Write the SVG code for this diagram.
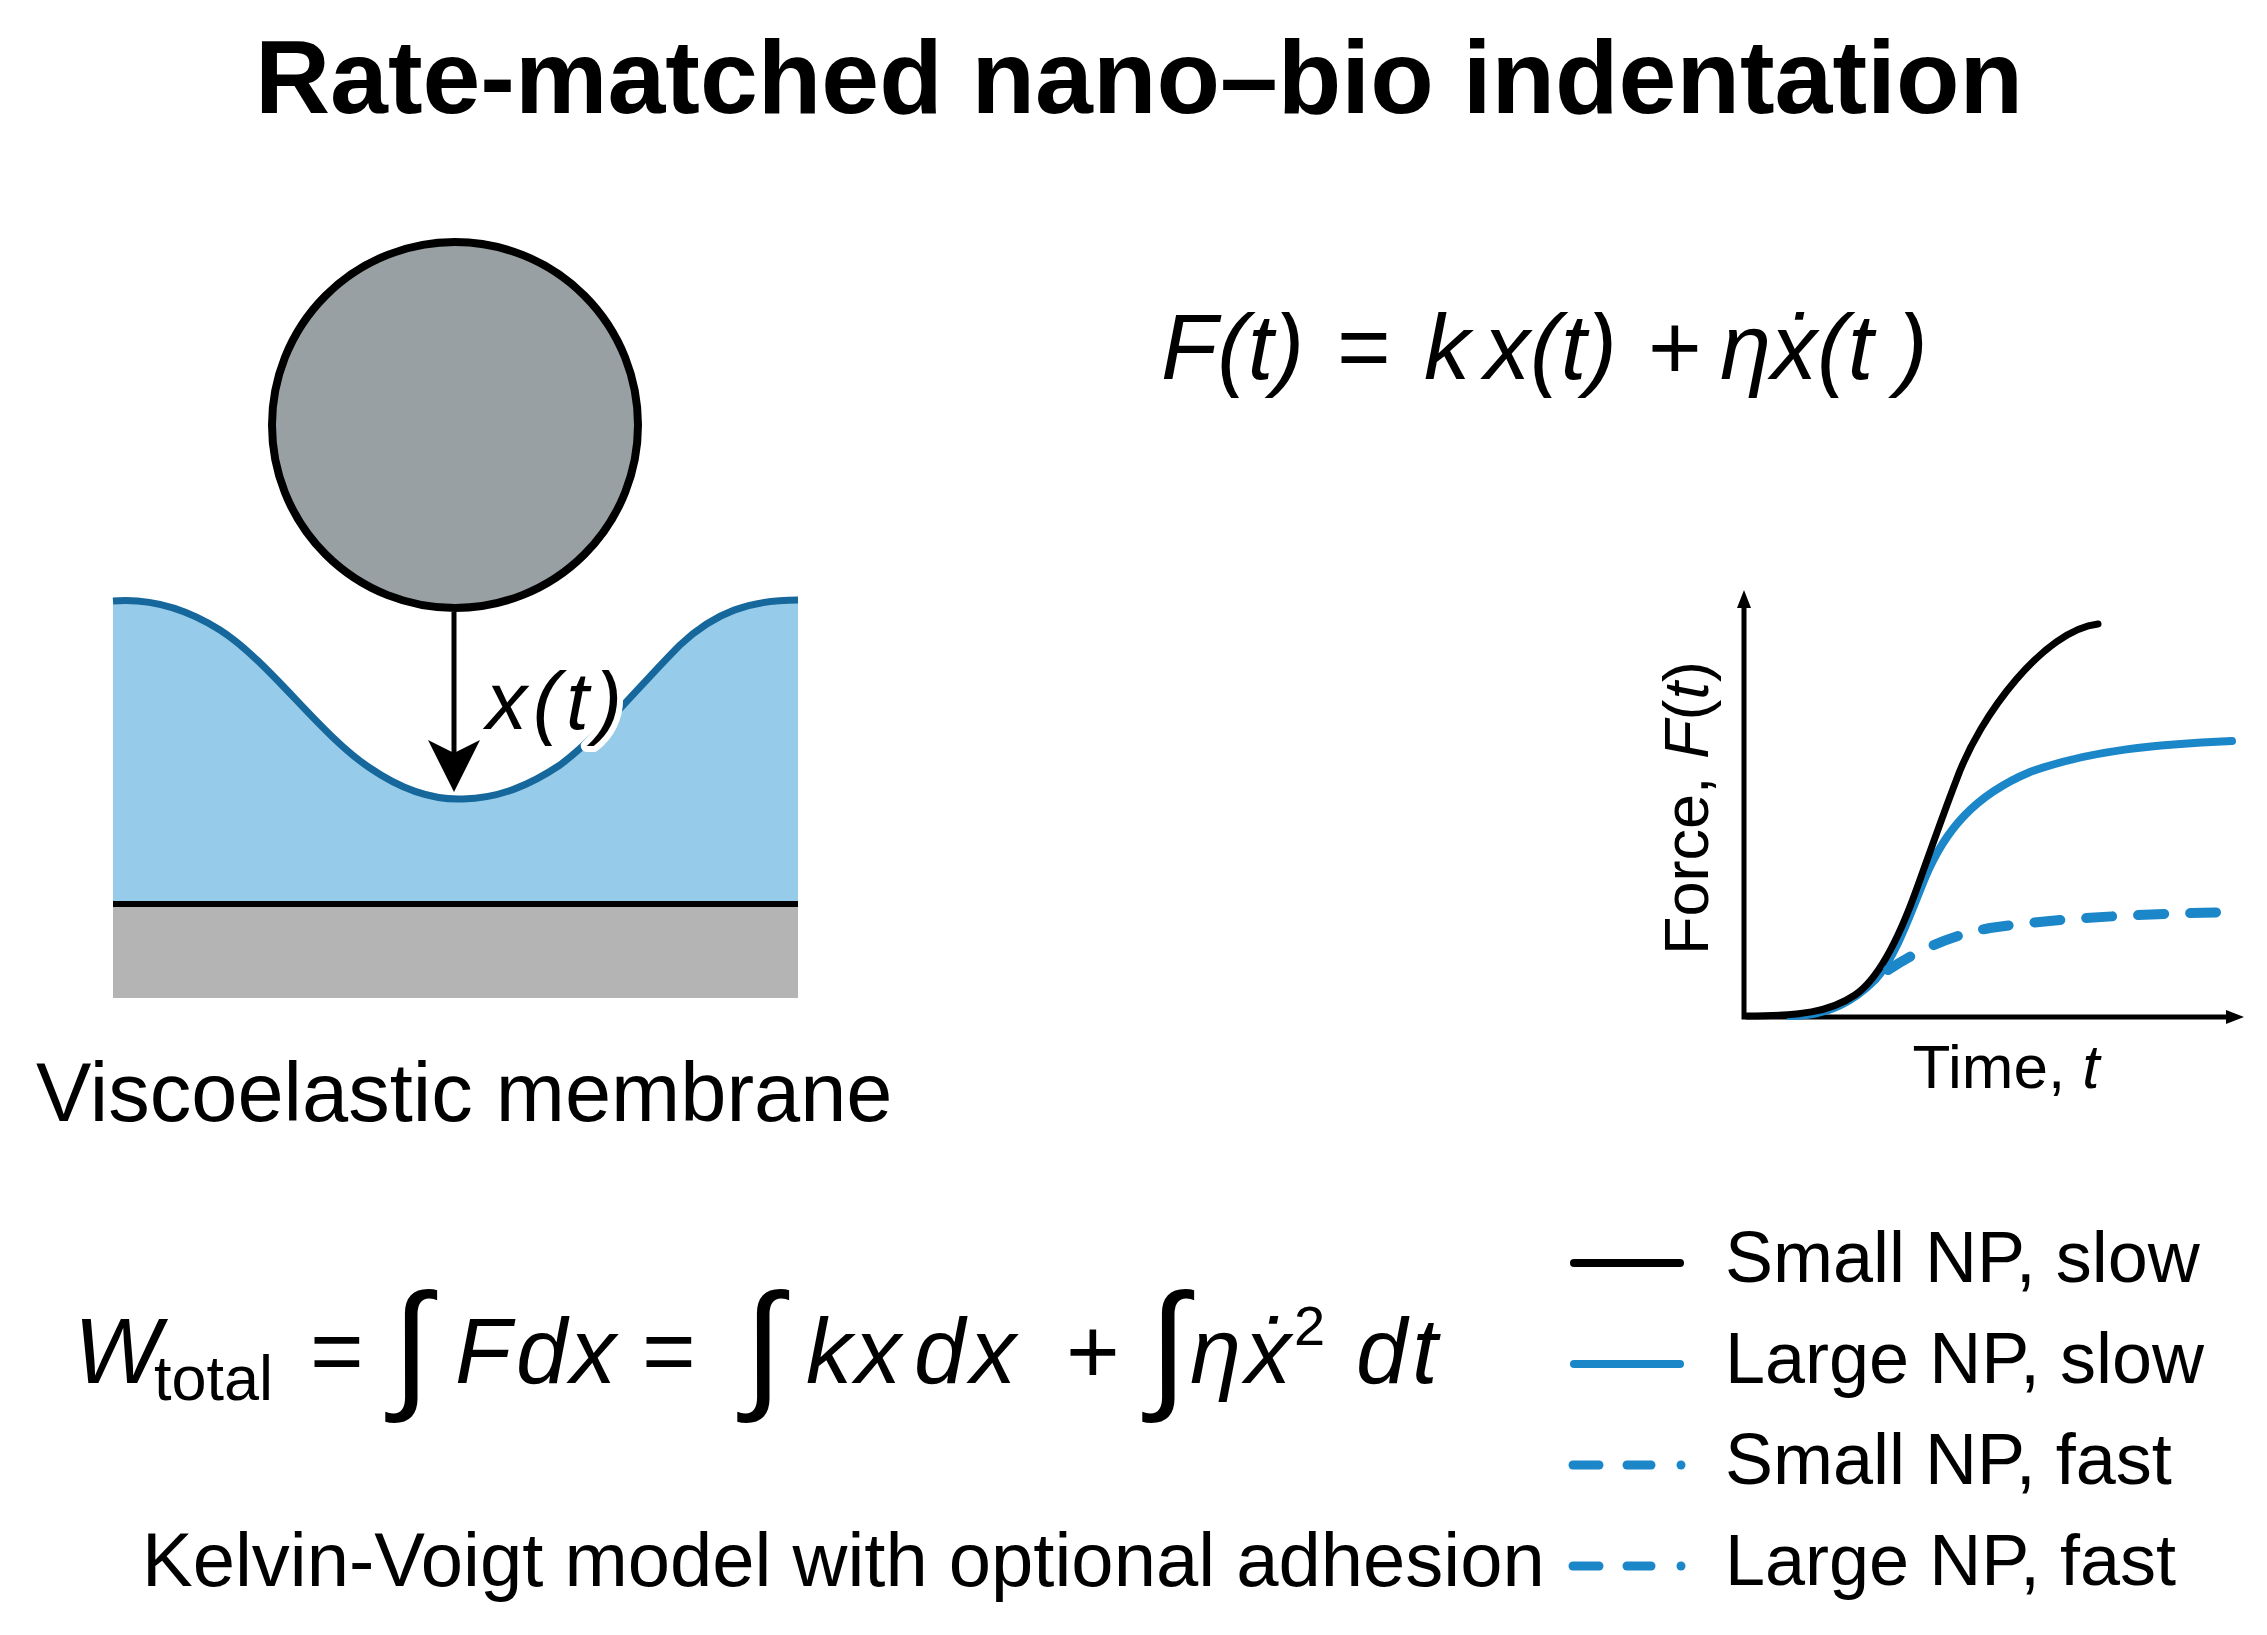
<svg xmlns="http://www.w3.org/2000/svg" width="2267" height="1635" viewBox="0 0 2267 1635">
<defs>
<style>
text{font-family:"Liberation Sans",Arial,"DejaVu Sans",sans-serif;fill:#000}
.i{font-style:italic}
.eq{font-size:92px}
.leg{font-size:72px}
.blue{stroke:#1b87c9;fill:none}
.blk{stroke:#000;fill:none}
</style>
</defs>
<rect width="2267" height="1635" fill="#ffffff"/>

<g id="title">
<text x="1139" y="113" text-anchor="middle" font-size="104" font-weight="bold">Rate-matched nano–bio indentation</text>
</g>

<g id="membrane">
<rect x="113" y="904" width="685" height="94" fill="#b4b4b4"/>
<path d="M113,601 C150,598 185,608 220,630 C270,662 320,735 370,768 C405,792 435,800 463,799 C500,798 530,785 560,765 C600,735 640,685 680,645 C715,612 750,600 798,600 L798,904 L113,904 Z" fill="#96cce9"/>
<path d="M113,601 C150,598 185,608 220,630 C270,662 320,735 370,768 C405,792 435,800 463,799 C500,798 530,785 560,765 C600,735 640,685 680,645 C715,612 750,600 798,600" fill="none" stroke="#15679c" stroke-width="7"/>
<line x1="113" y1="904" x2="798" y2="904" stroke="#000" stroke-width="6"/>
<text x="36" y="1121" font-size="83">Viscoelastic membrane</text>
</g>

<g id="nanoparticle">
<circle cx="455" cy="425" r="183" fill="#99a0a3" stroke="#000" stroke-width="8"/>
</g>

<g id="connectors">
<line x1="454" y1="612" x2="454" y2="760" stroke="#000" stroke-width="5"/>
<polygon points="428,740 454,792 480,740 454,753" fill="#000"/>
</g>

<g id="label-x">
<text x="486" y="729" font-size="82" class="i" textLength="136" stroke="#fff" stroke-width="12" paint-order="stroke" stroke-linejoin="round">x(t)</text>
</g>

<g id="eq-force">
<text class="eq i" y="379"><tspan x="1161">F(t)</tspan><tspan x="1337" font-style="normal">=</tspan><tspan x="1424">k</tspan><tspan x="1484">x(t)</tspan><tspan x="1648" font-style="normal">+</tspan><tspan x="1720">ηẋ(t</tspan><tspan x="1897">)</tspan></text>
</g>

<g id="plot">
<path d="M1744,606 L1744,1017 L2230,1017" fill="none" stroke="#000" stroke-width="5"/>
<polygon points="1737,608 1744,590 1751,608" fill="#000"/>
<polygon points="2226,1010 2244,1017 2226,1024" fill="#000"/>
<path class="blue" stroke-width="8" stroke-linecap="round" d="M1790,1016 C1830,1016 1855,1000 1875,980 C1895,958 1910,915 1925,878 C1945,830 1975,795 2030,772 C2090,750 2160,744 2232,741"/>
<path class="blk" stroke-width="7" stroke-linecap="round" d="M1747,1016 C1800,1016 1830,1012 1855,995 C1880,978 1902,930 1917,888 C1930,852 1944,812 1956,781 C1980,714 2045,630 2098,624"/>
<path class="blue" stroke-width="10" stroke-linecap="round" stroke-dasharray="26 26" d="M1888,970 C1915,952 1950,935 1990,928 C2050,919 2130,914 2234,912"/>
<text x="1708" y="808" font-size="63" text-anchor="middle" transform="rotate(-90 1708 808)">Force, <tspan class="i">F</tspan>(<tspan class="i">t</tspan>)</text>
<text x="2006" y="1088" font-size="62" text-anchor="middle">Time, <tspan class="i">t</tspan></text>
</g>

<g id="eq-work">
<text y="1383" font-size="92"><tspan class="i" x="74">W</tspan><tspan x="154" y="1400" font-size="63">total</tspan><tspan x="310" y="1383">=</tspan><tspan x="392" y="1392" font-size="140" class="i">∫</tspan><tspan class="i" x="455" y="1383">F</tspan><tspan class="i" x="516">d</tspan><tspan class="i" x="570">x</tspan><tspan x="642">=</tspan><tspan x="744" y="1392" font-size="140" class="i">∫</tspan><tspan class="i" x="806" y="1383">k</tspan><tspan class="i" x="855">x</tspan><tspan class="i" x="914">d</tspan><tspan class="i" x="970">x</tspan><tspan x="1066">+</tspan><tspan x="1149" y="1392" font-size="140" class="i">∫</tspan><tspan class="i" x="1190" y="1383">η</tspan><tspan class="i" x="1245">ẋ</tspan><tspan x="1294" y="1345" font-size="56">2</tspan><tspan class="i" x="1356" y="1383">d</tspan><tspan class="i" x="1412">t</tspan></text>
</g>

<g id="caption">
<text x="142" y="1586" font-size="76">Kelvin-Voigt model with optional adhesion</text>
</g>

<g id="legend">
<line x1="1574" y1="1263" x2="1680" y2="1263" stroke="#000" stroke-width="8" stroke-linecap="round"/>
<line x1="1574" y1="1364" x2="1680" y2="1364" stroke="#1b87c9" stroke-width="8" stroke-linecap="round"/>
<line x1="1573" y1="1465" x2="1599" y2="1465" stroke="#1b87c9" stroke-width="9" stroke-linecap="round"/>
<line x1="1627" y1="1465" x2="1651" y2="1465" stroke="#1b87c9" stroke-width="9" stroke-linecap="round"/>
<circle cx="1681" cy="1465" r="4.5" fill="#1b87c9"/>
<line x1="1573" y1="1566" x2="1599" y2="1566" stroke="#1b87c9" stroke-width="9" stroke-linecap="round"/>
<line x1="1627" y1="1566" x2="1651" y2="1566" stroke="#1b87c9" stroke-width="9" stroke-linecap="round"/>
<circle cx="1681" cy="1566" r="4.5" fill="#1b87c9"/>
<text class="leg" x="1725" y="1282">Small NP, slow</text>
<text class="leg" x="1725" y="1383">Large NP, slow</text>
<text class="leg" x="1725" y="1484">Small NP, fast</text>
<text class="leg" x="1725" y="1585">Large NP, fast</text>
</g>
</svg>
